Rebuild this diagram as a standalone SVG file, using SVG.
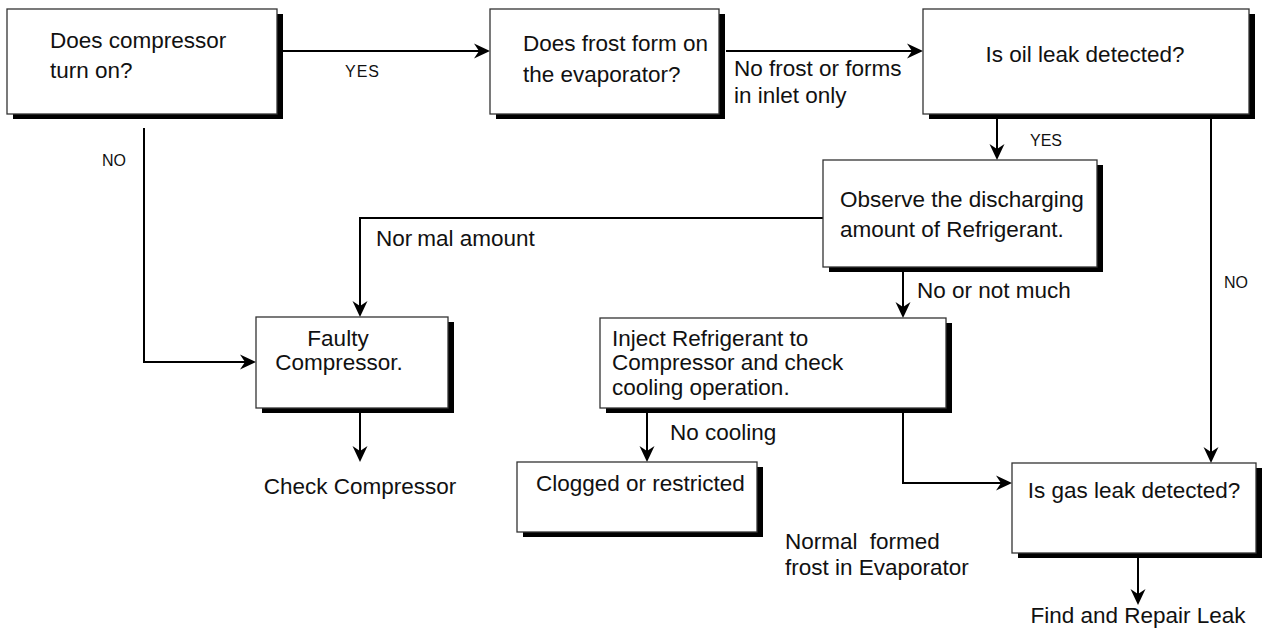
<svg xmlns="http://www.w3.org/2000/svg" width="1262" height="629" viewBox="0 0 1262 629">
<defs>
<marker id="ah" viewBox="0 0 16 16" markerWidth="16" markerHeight="16" refX="14" refY="8" orient="auto" markerUnits="userSpaceOnUse">
<path d="M0,0.5 L16,8 L0,15.5 L5,8 z" fill="#000"/>
</marker>
</defs>
<style>
.box{fill:#fff;stroke:#333;stroke-width:1.3}
.sh{fill:#000}
.t{font-family:"Liberation Sans",Arial,sans-serif;font-size:22.5px;fill:#111}
.s{font-family:"Liberation Sans",Arial,sans-serif;font-size:16px;fill:#111}
.c{fill:none;stroke:#000;stroke-width:2}
</style>
<rect width="1262" height="629" fill="#fff"/>
<g id="connectors">
<path class="c" d="M283,51 H488" marker-end="url(#ah)"/>
<path class="c" d="M726,51 H921" marker-end="url(#ah)"/>
<path class="c" d="M144,128 V362 H254" marker-end="url(#ah)"/>
<path class="c" d="M997,119 V158" marker-end="url(#ah)"/>
<path class="c" d="M1211,119 V461" marker-end="url(#ah)"/>
<path class="c" d="M823,218 H360 V315" marker-end="url(#ah)"/>
<path class="c" d="M360,413 V460" marker-end="url(#ah)"/>
<path class="c" d="M903,272 V316" marker-end="url(#ah)"/>
<path class="c" d="M647,413 V460" marker-end="url(#ah)"/>
<path class="c" d="M903,413 V483 H1010" marker-end="url(#ah)"/>
<path class="c" d="M1138,558 V603" marker-end="url(#ah)"/>
<text class="s" x="345" y="77" letter-spacing="1">YES</text>
<text class="t" x="734" y="76">No frost or forms</text>
<text class="t" x="734" y="103">in inlet only</text>
<text class="s" x="102" y="166" font-size="17">NO</text>
<text class="s" x="1030" y="146">YES</text>
<text class="s" x="1224" y="288">NO</text>
<text class="t" x="376" y="246">Nor<tspan dx="5">mal amount</tspan></text>
<text class="t" x="917" y="298">No or not much</text>
<text class="t" x="670" y="440">No cooling</text>
<text class="t" x="785" y="549">Normal<tspan dx="6"> formed</tspan></text>
<text class="t" x="785" y="575">frost in Evaporator</text>
<text class="t" x="360" y="494" text-anchor="middle">Check Compressor</text>
<text class="t" x="1138" y="623" text-anchor="middle">Find and Repair Leak</text>
</g>
<g id="n1">
<rect class="sh" x="13" y="14" width="270" height="105"/>
<rect class="box" x="7" y="9" width="270" height="105"/>
<text class="t" x="50" y="48">Does compressor</text>
<text class="t" x="50" y="78">turn on?</text>
</g>
<g id="n2">
<rect class="sh" x="496" y="14" width="229" height="105"/>
<rect class="box" x="490" y="9" width="229" height="105"/>
<text class="t" x="523" y="51">Does frost form on</text>
<text class="t" x="523" y="82">the evaporator?</text>
</g>
<g id="n3">
<rect class="sh" x="929" y="14" width="326" height="105"/>
<rect class="box" x="923" y="9" width="326" height="105"/>
<text class="t" x="1085" y="62" text-anchor="middle">Is oil leak detected?</text>
</g>
<g id="n4">
<rect class="sh" x="829" y="165" width="274" height="107"/>
<rect class="box" x="823" y="160" width="274" height="107"/>
<text class="t" x="840" y="207">Observe the discharging</text>
<text class="t" x="840" y="237">amount of Refrigerant.</text>
</g>
<g id="n5">
<rect class="sh" x="262" y="322" width="192" height="91"/>
<rect class="box" x="256" y="317" width="192" height="91"/>
<text class="t" x="338" y="346" text-anchor="middle">Faulty</text>
<text class="t" x="339" y="370" text-anchor="middle">Compressor.</text>
</g>
<g id="n6">
<rect class="sh" x="606" y="323" width="346" height="90"/>
<rect class="box" x="600" y="318" width="346" height="90"/>
<text class="t" x="612" y="346">Inject Refrigerant to</text>
<text class="t" x="612" y="370">Compressor and check</text>
<text class="t" x="612" y="395">cooling operation.</text>
</g>
<g id="n7">
<rect class="sh" x="523" y="467" width="240" height="70"/>
<rect class="box" x="517" y="462" width="240" height="70"/>
<text class="t" x="536" y="491">Clogged or restricted</text>
</g>
<g id="n8">
<rect class="sh" x="1018" y="468" width="244" height="90"/>
<rect class="box" x="1012" y="463" width="244" height="90"/>
<text class="t" x="1134" y="498" text-anchor="middle">Is gas leak detected?</text>
</g>
</svg>
